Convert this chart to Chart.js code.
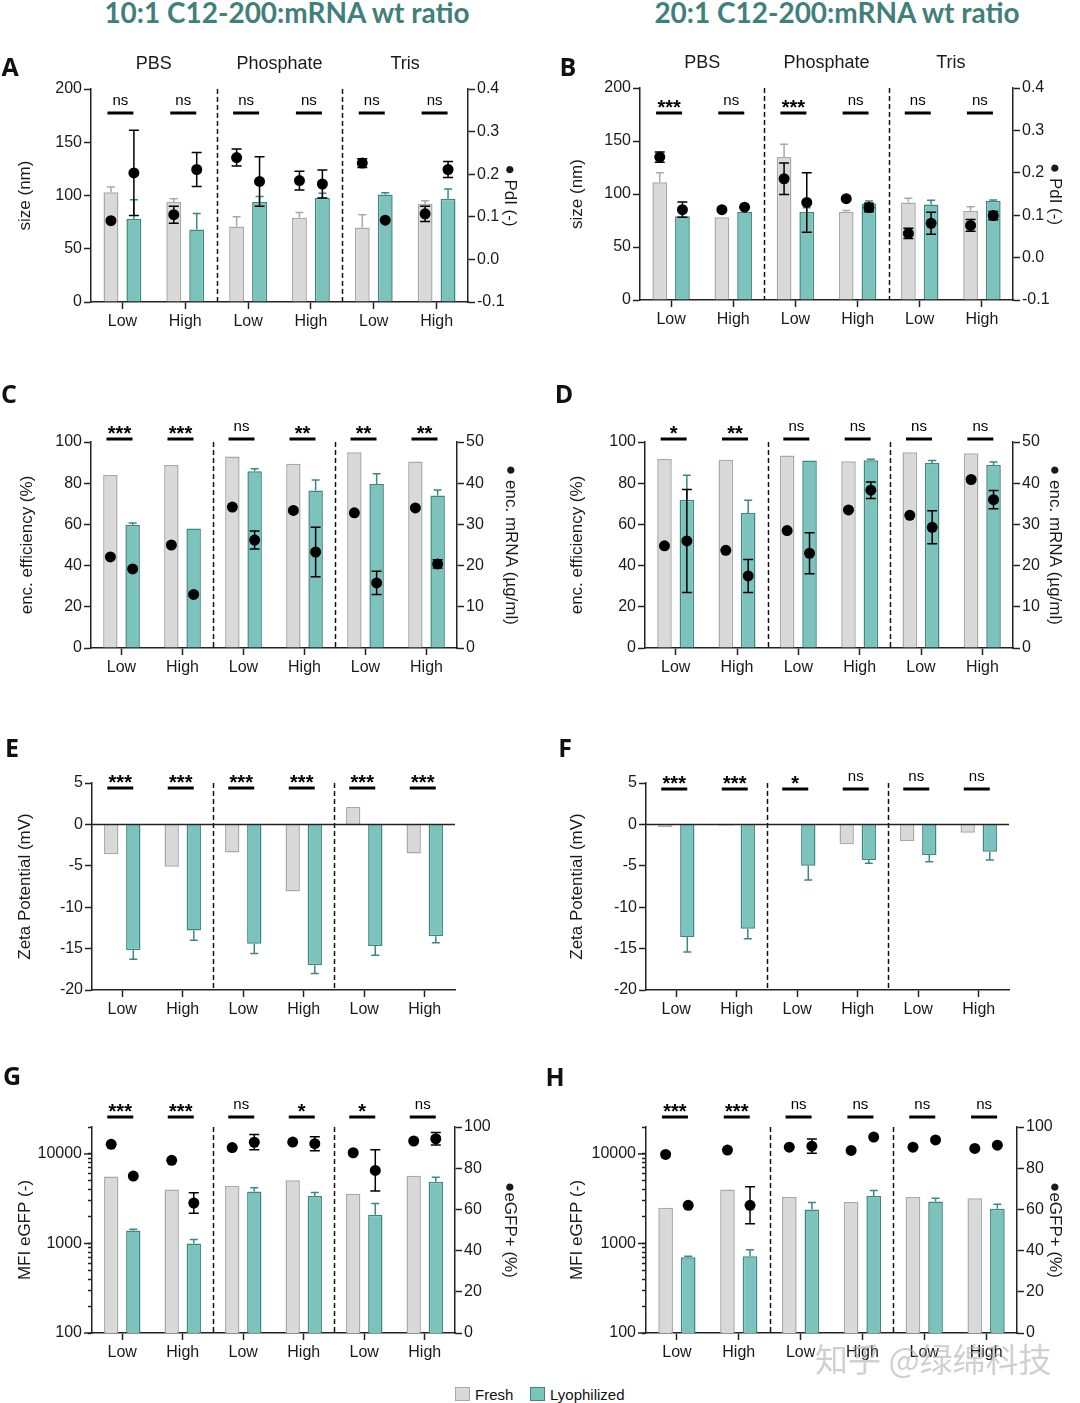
<!DOCTYPE html>
<html><head><meta charset="utf-8">
<script src="https://cdn.jsdelivr.net/npm/chart.js@4.4.1/dist/chart.umd.min.js"></script>
<style>
html,body{margin:0;padding:0;background:#fff;}
body{width:1080px;height:1403px;position:relative;overflow:hidden;font-family:"Liberation Sans",Arial,sans-serif;}
.cv{position:absolute;}
.title{position:absolute;font-family:Lato,"Open Sans",sans-serif;font-weight:700;color:#3f807a;white-space:nowrap;line-height:1;transform:translateX(-50%);}
.letter{position:absolute;font-family:"Open Sans",sans-serif;font-weight:700;font-size:25px;line-height:1;transform:translate(-50%,-50%);color:#111;}
.lgbox{position:absolute;width:15px;height:14px;box-sizing:border-box;}
.lgtxt{position:absolute;font-size:15px;line-height:1;color:#111;}
.wm{position:absolute;font-family:"Noto Sans CJK SC",sans-serif;font-size:33px;color:rgba(170,170,170,0.55);white-space:nowrap;line-height:1;}
</style></head><body>
<div class="title" id="t1" style="left:287px;top:-2px;">10:1 C12-200:mRNA wt ratio</div>
<div class="title" id="t2" style="left:837px;top:-2px;">20:1 C12-200:mRNA wt ratio</div>
<script>
// ---------------- DATA ----------------
const categories = ['Low','High','Low','High','Low','High'];
const buffers = ['PBS','Phosphate','Tris'];
const seriesNames = ['Fresh','Lyophilized'];

// A: 10:1 size / PdI
const sizeA_fresh = [103, 94, 71, 79, 70, 92];
const sizeA_freshErr = [5, 3, 9, 5, 12, 3];
const sizeA_lyo = [78, 68, 94, 98, 101, 97];
const sizeA_lyoErr = [18, 15, 5, 4, 1.5, 9];
const pdiA_fresh = [0.091, 0.105, 0.239, 0.185, 0.226, 0.107];
const pdiA_freshErr = [0, 0.02, 0.02, 0.022, 0.01, 0.018];
const pdiA_lyo = [0.203, 0.211, 0.183, 0.177, 0.092, 0.211];
const pdiA_lyoErr = [0.1, 0.04, 0.058, 0.033, 0, 0.019];
const sigA = ['ns','ns','ns','ns','ns','ns'];

// B: 20:1 size / PdI
const sizeB_fresh = [111, 78, 135, 83, 92, 84];
const sizeB_freshErr = [9, 0, 12, 1.5, 4, 4];
const sizeB_lyo = [79, 83, 83, 91, 90, 93.5];
const sizeB_lyoErr = [3, 0, 4, 2.5, 4, 0.8];
const pdiB_fresh = [0.237, 0.113, 0.186, 0.139, 0.057, 0.076];
const pdiB_freshErr = [0.012, 0, 0.037, 0, 0.012, 0.014];
const pdiB_lyo = [0.113, 0.119, 0.13, 0.118, 0.081, 0.099];
const pdiB_lyoErr = [0.018, 0, 0.07, 0.01, 0.026, 0.01];
const sigB = ['***','ns','***','ns','ns','ns'];

// C: 10:1 encapsulation
const eeC_fresh = [84, 88.8, 93, 89.5, 95, 90.5];
const eeC_lyo = [59.7, 58, 85.8, 76.5, 79.6, 74];
const eeC_lyoErr = [1, 0, 1.2, 5, 5, 2.7];
const mrnaC_fresh = [22.1, 25, 34.2, 33.4, 32.8, 34];
const mrnaC_lyo = [19.2, 13, 26.2, 23.3, 15.8, 20.4];
const mrnaC_lyoErr = [0, 0, 2.2, 6, 2.8, 1];
const sigC = ['***','***','ns','**','**','**'];

// D: 20:1 encapsulation
const eeD_fresh = [91.7, 91.4, 93.4, 90.6, 95, 94.5];
const eeD_lyo = [72, 65.5, 91, 91.1, 89.8, 88.8];
const eeD_lyoErr = [11.8, 6.2, 0, 0.5, 1.2, 1.5];
const mrnaD_fresh = [24.8, 23.7, 28.5, 33.5, 32.2, 40.9];
const mrnaD_lyo = [26, 17.5, 23, 38.3, 29.3, 36];
const mrnaD_lyoErr = [12.5, 4, 5, 2, 4, 2.2];
const sigD = ['*','**','ns','ns','ns','ns'];

// E: 10:1 zeta
const zetaE_fresh = [-3.6, -5.1, -3.4, -8.1, 2.1, -3.5];
const zetaE_lyo = [-15.2, -12.8, -14.4, -17.0, -14.7, -13.5];
const zetaE_lyoErr = [1.1, 1.2, 1.2, 1.0, 1.1, 0.8];
const sigE = ['***','***','***','***','***','***'];

// F: 20:1 zeta
const zetaF_fresh = [-0.3, -0.15, -0.1, -2.4, -2.0, -1.0];
const zetaF_lyo = [-13.6, -12.6, -5.0, -4.3, -3.7, -3.3];
const zetaF_lyoErr = [1.8, 1.2, 1.7, 0.4, 0.8, 1.0];
const sigF = ['***','***','*','ns','ns','ns'];

// G: 10:1 transfection
const mfiG_fresh = [5600, 4000, 4400, 5100, 3600, 5700];
const mfiG_lyo = [1400, 1000, 3800, 3400, 2100, 4900];
const mfiG_lyoErr = [40, 110, 400, 300, 700, 580];
const egfpG_fresh = [91.6, 83.8, 90, 92.7, 87.5, 93.2];
const egfpG_lyo = [76.2, 63.1, 92.6, 91.9, 78.9, 94.3];
const egfpG_lyoErr = [0, 5, 3.7, 3.4, 10, 3];
const sigG = ['***','***','ns','*','*','ns'];

// H: 20:1 transfection
const mfiH_fresh = [2500, 4000, 3300, 2900, 3300, 3200];
const mfiH_lyo = [700, 720, 2400, 3400, 2950, 2450];
const mfiH_lyoErr = [20, 130, 460, 500, 240, 290];
const egfpH_fresh = [86.7, 88.8, 90.2, 88.6, 90.2, 89.6];
const egfpH_lyo = [62, 62, 90.7, 95.1, 93.7, 91.2];
const egfpH_lyoErr = [0, 9, 3.5, 0, 0, 0];
const sigH = ['***','***','ns','ns','ns','ns'];

// log-axis tick values
const mfiTickValues = [100,200,300,400,500,600,700,800,900,1000,2000,3000,4000,5000,6000,7000,8000,9000,10000,20000];
const mfiLabelValues = [100,1000,10000];

// ---------------- STYLE / LAYOUT ----------------
const FRESH_BG='#d9d9d9', FRESH_BD='#a9a9a9', LYO_BG='#7dc3bd', LYO_BD='#3c8780', INK='#1a1a1a';
Chart.defaults.font.family = '"Liberation Sans", Arial, sans-serif';
Chart.defaults.color = INK;
const H_X = 30;

const panels = [
 {key:'A', col:0, top:40, height:300, area:{l:91,r:468,t:89,b:302}, lt:25, rt:510, sigDy:24, headers:true,
  left:{min:0,max:200,step:50,title:'size (nm)'}, right:{min:-0.1,max:0.4,step:0.1,title:'● PdI (-)',dec:1},
  fresh:sizeA_fresh, freshErr:sizeA_freshErr, lyo:sizeA_lyo, lyoErr:sizeA_lyoErr,
  pF:pdiA_fresh, pFe:pdiA_freshErr, pL:pdiA_lyo, pLe:pdiA_lyoErr, sig:sigA},
 {key:'B', col:1, top:40, height:300, area:{l:640,r:1013,t:88,b:300}, lt:577, rt:1055, sigDy:25, headers:true,
  left:{min:0,max:200,step:50,title:'size (nm)'}, right:{min:-0.1,max:0.4,step:0.1,title:'● PdI (-)',dec:1},
  fresh:sizeB_fresh, freshErr:sizeB_freshErr, lyo:sizeB_lyo, lyoErr:sizeB_lyoErr,
  pF:pdiB_fresh, pFe:pdiB_freshErr, pL:pdiB_lyo, pLe:pdiB_lyoErr, sig:sigB},
 {key:'C', col:0, top:380, height:310, area:{l:91,r:457,t:442,b:648}, lt:27, rt:511, sigDy:-3,
  left:{min:0,max:100,step:20,title:'enc. efficiency (%)'}, right:{min:0,max:50,step:10,title:'● enc. mRNA (µg/ml)',dec:0},
  fresh:eeC_fresh, freshErr:null, lyo:eeC_lyo, lyoErr:eeC_lyoErr,
  pF:mrnaC_fresh, pFe:null, pL:mrnaC_lyo, pLe:mrnaC_lyoErr, sig:sigC},
 {key:'D', col:1, top:380, height:310, area:{l:645,r:1013,t:442,b:648}, lt:577, rt:1055, sigDy:-3,
  left:{min:0,max:100,step:20,title:'enc. efficiency (%)'}, right:{min:0,max:50,step:10,title:'● enc. mRNA (µg/ml)',dec:0},
  fresh:eeD_fresh, freshErr:null, lyo:eeD_lyo, lyoErr:eeD_lyoErr,
  pF:mrnaD_fresh, pFe:null, pL:mrnaD_lyo, pLe:mrnaD_lyoErr, sig:sigD},
 {key:'E', col:0, top:730, height:300, area:{l:92,r:455,t:783,b:990}, lt:25, sigDy:5, zero:true,
  left:{min:-20,max:5,step:5,title:'Zeta Potential (mV)'},
  fresh:zetaE_fresh, freshErr:null, lyo:zetaE_lyo, lyoErr:zetaE_lyoErr, sig:sigE},
 {key:'F', col:1, top:730, height:300, area:{l:646,r:1009,t:783,b:990}, lt:577, sigDy:6, zero:true,
  left:{min:-20,max:5,step:5,title:'Zeta Potential (mV)'},
  fresh:zetaF_fresh, freshErr:null, lyo:zetaF_lyo, lyoErr:zetaF_lyoErr, sig:sigF},
 {key:'G', col:0, top:1060, height:310, area:{l:92,r:455,t:1127,b:1333}, lt:25, rt:510, sigDy:-10, log:true,
  left:{min:100,max:20000,title:'MFI eGFP (-)'}, right:{min:0,max:100,step:20,title:'●eGFP+ (%)',dec:0},
  fresh:mfiG_fresh, freshErr:null, lyo:mfiG_lyo, lyoErr:mfiG_lyoErr,
  pF:egfpG_fresh, pFe:null, pL:egfpG_lyo, pLe:egfpG_lyoErr, sig:sigG},
 {key:'H', col:1, top:1060, height:310, area:{l:646,r:1017,t:1127,b:1333}, lt:577, rt:1055, sigDy:-10, log:true,
  left:{min:100,max:20000,title:'MFI eGFP (-)'}, right:{min:0,max:100,step:20,title:'●eGFP+ (%)',dec:0},
  fresh:mfiH_fresh, freshErr:null, lyo:mfiH_lyo, lyoErr:mfiH_lyoErr,
  pF:egfpH_fresh, pFe:null, pL:egfpH_lyo, pLe:egfpH_lyoErr, sig:sigH}
];

const letterPos = {A:[10,66],B:[568,66],C:[9,393],D:[564,393],E:[12,747],F:[565,747],G:[12,1075],H:[555,1076]};

// ---------------- PLUGIN ----------------
const deco = {
  id:'deco',
  afterDatasetsUpdate(chart){
    chart.data.datasets.forEach((ds,di)=>{
      if (ds.alignTo===undefined) return;
      const bars = chart.getDatasetMeta(ds.alignTo).data;
      chart.getDatasetMeta(di).data.forEach((pt,i)=>{ if (bars[i]) pt.x = bars[i].x; });
    });
  },
  afterDatasetDraw(chart,args){
    const ds = chart.data.datasets[args.index];
    if (!ds.errors) return;
    const ctx = chart.ctx, ys = chart.scales[args.meta.yAxisID];
    ctx.save();
    args.meta.data.forEach((el,i)=>{
      const v = ds.data[i], e = ds.errors[i];
      if (!e) return;
      let y0, y1, cap;
      if (ds.type === 'bar' || !ds.type) {
        const dir = v < 0 ? -1 : 1;
        y0 = ys.getPixelForValue(v); y1 = ys.getPixelForValue(v + dir*e); cap = 4;
        ctx.strokeStyle = ds.borderColor; ctx.lineWidth = 1.5;
        ctx.beginPath(); ctx.moveTo(el.x,y0); ctx.lineTo(el.x,y1);
        ctx.moveTo(el.x-cap,y1); ctx.lineTo(el.x+cap,y1); ctx.stroke();
      } else {
        y0 = ys.getPixelForValue(v - e); y1 = ys.getPixelForValue(v + e); cap = 5;
        ctx.strokeStyle = '#000'; ctx.lineWidth = 1.5;
        ctx.beginPath(); ctx.moveTo(el.x,y0); ctx.lineTo(el.x,y1);
        ctx.moveTo(el.x-cap,y0); ctx.lineTo(el.x+cap,y0);
        ctx.moveTo(el.x-cap,y1); ctx.lineTo(el.x+cap,y1); ctx.stroke();
      }
    });
    ctx.restore();
  },
  afterDraw(chart){
    const o = chart.options.plugins.deco; if (!o) return;
    const ctx = chart.ctx, xs = chart.scales.x, a = chart.chartArea;
    ctx.save();
    // dashed separators
    ctx.strokeStyle = '#111'; ctx.lineWidth = 1.5; ctx.setLineDash([5,3]);
    [1,3].forEach(k=>{
      const x = Math.round((xs.getPixelForValue(k)+xs.getPixelForValue(k+1))/2)+0.5;
      ctx.beginPath(); ctx.moveTo(x,a.top); ctx.lineTo(x,a.bottom); ctx.stroke();
    });
    ctx.setLineDash([]);
    // zero line
    if (o.zero) {
      const y = Math.round(chart.scales.y.getPixelForValue(0))+0.5;
      ctx.strokeStyle = '#222'; ctx.lineWidth = 1.5;
      ctx.beginPath(); ctx.moveTo(a.left,y); ctx.lineTo(a.right,y); ctx.stroke();
    }
    // log major ticks
    if (o.log) {
      ctx.strokeStyle = '#222'; ctx.lineWidth = 1.5;
      mfiLabelValues.forEach(v=>{
        const y = chart.scales.y.getPixelForValue(v);
        ctx.beginPath(); ctx.moveTo(a.left-8,y); ctx.lineTo(a.left,y); ctx.stroke();
      });
    }
    // significance
    const sy = a.top + o.sigDy;
    o.sig.forEach((s,i)=>{
      const cx = xs.getPixelForValue(i) - 2;
      ctx.fillStyle = '#000';
      ctx.fillRect(cx-13, sy-1.5, 26, 3);
      ctx.textAlign = 'center'; ctx.textBaseline = 'alphabetic';
      if (s === 'ns') { ctx.font = '15px "Liberation Sans", Arial'; ctx.fillText(s, cx, sy-8); }
      else { ctx.font = 'bold 20px "Liberation Sans", Arial'; ctx.fillText(s, cx, sy+1); }
    });
    // group headers
    if (o.headers) {
      ctx.font = '18px "Liberation Sans", Arial'; ctx.fillStyle = INK; ctx.textAlign='center'; ctx.textBaseline='middle';
      buffers.forEach((b,k)=>{
        const x = (xs.getPixelForValue(2*k)+xs.getPixelForValue(2*k+1))/2;
        ctx.fillText(b, x, a.top-25);
      });
    }
    ctx.restore();
  }
};

// ---------------- BUILD ----------------
function build(p){
  const cl = p.col*540, cw = 540;
  const wrap = document.createElement('div');
  wrap.className = 'cv';
  wrap.style.left = cl+'px'; wrap.style.top = p.top+'px';
  wrap.style.width = cw+'px'; wrap.style.height = p.height+'px';
  const cv = document.createElement('canvas');
  wrap.appendChild(cv); document.body.appendChild(wrap);

  const WL = p.area.l - cl;
  const hasRight = !!p.right;
  const WR = cl + cw - p.area.r;
  const lh = 17*1.2;

  const datasets = [
    {type:'bar', label:seriesNames[0], data:p.fresh, errors:p.freshErr, backgroundColor:FRESH_BG, borderColor:FRESH_BD, borderWidth:1.5, order:2, yAxisID:'y'},
    {type:'bar', label:seriesNames[1], data:p.lyo, errors:p.lyoErr, backgroundColor:LYO_BG, borderColor:LYO_BD, borderWidth:1.5, order:2, yAxisID:'y'}
  ];
  if (hasRight) {
    const pt = {type:'line', showLine:false, pointRadius:5.5, pointHoverRadius:5.5, pointBackgroundColor:'#000', pointBorderColor:'#000', pointBorderWidth:0, borderWidth:0, order:1, yAxisID:'y2'};
    datasets.push(Object.assign({}, pt, {label:seriesNames[0]+' (points)', data:p.pF, errors:p.pFe, alignTo:0}));
    datasets.push(Object.assign({}, pt, {label:seriesNames[1]+' (points)', data:p.pL, errors:p.pLe, alignTo:1}));
  }

  const yLeft = {
    position:'left', type: p.log ? 'logarithmic' : 'linear',
    min:p.left.min, max:p.left.max,
    grid:{drawOnChartArea:false, tickLength: p.log?4:7, tickColor:'#222', tickWidth:1.5},
    border:{color:'#222', width:1.5},
    ticks:{font:{size:16}, color:INK, padding: p.log?6:2, autoSkip:false,
      callback:(v)=> p.log ? (mfiLabelValues.includes(v) ? String(v) : '') : String(v)},
    title:{display:true, text:p.left.title, font:{size:17}, color:INK, padding:{top:(p.lt-cl)-lh/2, bottom:0}},
    afterFit:(s)=>{ s.width = WL; }
  };
  if (p.log) {
    yLeft.afterBuildTicks = (s)=>{ s.ticks = mfiTickValues.map(v=>({value:v, major:mfiLabelValues.includes(v)})); };
  } else {
    yLeft.ticks.stepSize = p.left.step;
  }
  const scales = {
    x:{type:'category', labels:categories, offset:true,
      grid:{drawOnChartArea:false, offset:false, tickLength:7, tickColor:'#222', tickWidth:1.5},
      border:{color:'#222', width:1.5},
      ticks:{font:{size:16}, color:INK, padding:3, maxRotation:0, autoSkip:false},
      afterFit:(s)=>{ s.height = H_X; }},
    y:yLeft
  };
  if (hasRight) {
    scales.y2 = {position:'right', type:'linear', min:p.right.min, max:p.right.max,
      grid:{drawOnChartArea:false, tickLength:7, tickColor:'#222', tickWidth:1.5},
      border:{color:'#222', width:1.5},
      ticks:{stepSize:p.right.step, font:{size:16}, color:INK, padding:2, callback:(v)=>Number(v).toFixed(p.right.dec)},
      title:{display:true, text:p.right.title, font:{size:17}, color:INK, padding:{top:(cl+cw-p.rt)-lh/2, bottom:0}},
      afterFit:(s)=>{ s.width = WR; }};
  }

  new Chart(cv, {
    data:{labels:categories, datasets},
    options:{
      responsive:true, maintainAspectRatio:false, animation:false, events:[],
      datasets:{bar:{categoryPercentage:0.73, barPercentage:0.65}},
      layout:{padding:{left:0, right: hasRight?0:WR, top:p.area.t-p.top, bottom:(p.top+p.height)-p.area.b-H_X}},
      plugins:{legend:{display:false}, tooltip:{enabled:false},
        deco:{sig:p.sig, sigDy:p.sigDy, zero:!!p.zero, log:!!p.log, headers:!!p.headers}},
      scales
    },
    plugins:[deco]
  });

  const L = document.createElement('div');
  L.className = 'letter'; L.textContent = p.key;
  L.style.left = letterPos[p.key][0]+'px'; L.style.top = letterPos[p.key][1]+'px';
  document.body.appendChild(L);
}
panels.forEach(build);

// titles fitted to reference width
(function(){
  const c = document.createElement('canvas').getContext('2d');
  ['t1','t2'].forEach(id=>{
    const el = document.getElementById(id);
    c.font = '700 28px Lato';
    const w = c.measureText(el.textContent).width;
    const fs = 28*367/w;
    el.style.fontSize = fs+'px';
    el.style.top = (23 - 0.887*fs)+'px';
  });
})();

// legend
(function(){
  const items = [{x:455, bg:FRESH_BG, bd:FRESH_BD},{x:530, bg:LYO_BG, bd:LYO_BD}];
  items.forEach((it,k)=>{
    const b = document.createElement('div'); b.className='lgbox';
    b.style.left = it.x+'px'; b.style.top='1387px'; b.style.background=it.bg; b.style.border='1.5px solid '+it.bd;
    document.body.appendChild(b);
    const t = document.createElement('div'); t.className='lgtxt'; t.textContent = seriesNames[k];
    t.style.left = (it.x+20)+'px'; t.style.top='1387px';
    document.body.appendChild(t);
  });
  const w = document.createElement('div'); w.className='wm'; w.textContent='知乎 @绿绵科技';
  w.style.left='815px'; w.style.top='1342px';
  document.body.appendChild(w);
})();
</script>
</body></html>
